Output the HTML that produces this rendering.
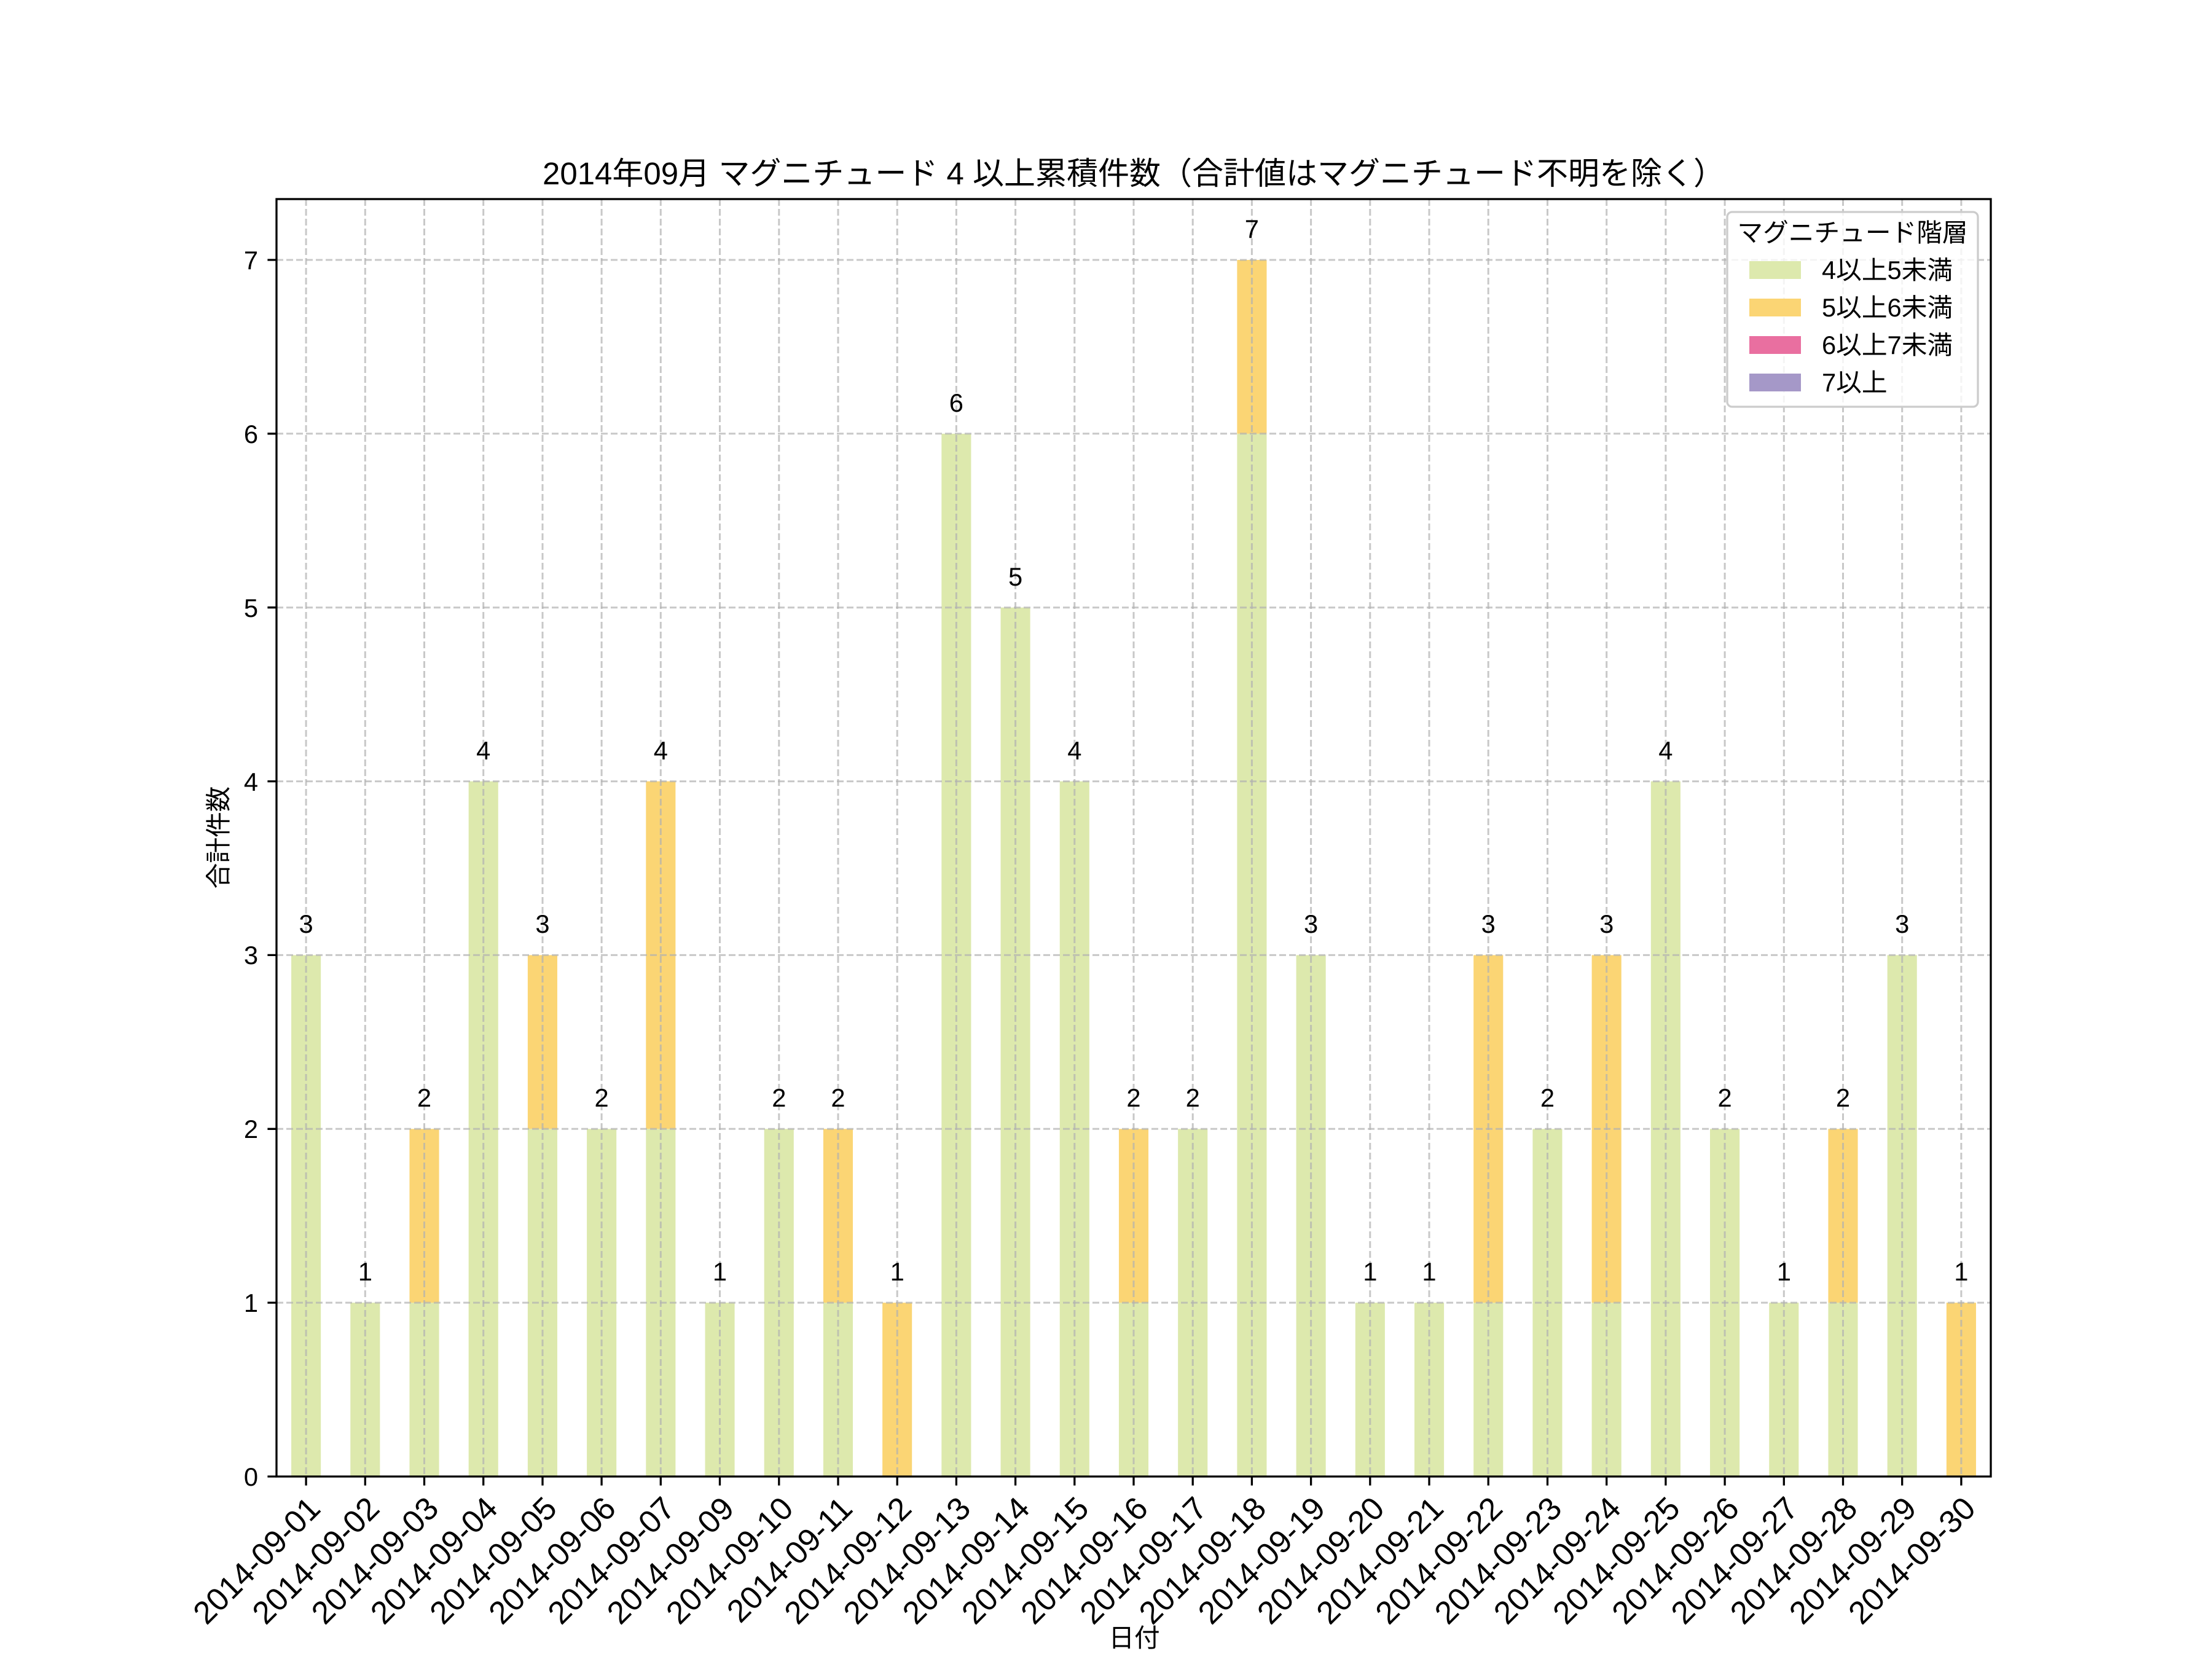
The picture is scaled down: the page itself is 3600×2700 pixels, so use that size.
<!DOCTYPE html>
<html><head><meta charset="utf-8"><style>
html,body{margin:0;padding:0;background:#fff;}
svg{display:block;}
text{font-family:"Liberation Sans","Noto Sans CJK JP",sans-serif;fill:#000;}
</style></head><body>
<svg width="3600" height="2700" viewBox="0 0 3600 2700" xmlns="http://www.w3.org/2000/svg">
<rect width="3600" height="2700" fill="#fff"/>
<g transform="translate(450,2403) scale(96.207,-282.857)">
<g fill="#dde9ad">
<rect x="0.25" y="0" width="0.5" height="3"/>
<rect x="1.25" y="0" width="0.5" height="1"/>
<rect x="2.25" y="0" width="0.5" height="1"/>
<rect x="3.25" y="0" width="0.5" height="4"/>
<rect x="4.25" y="0" width="0.5" height="2"/>
<rect x="5.25" y="0" width="0.5" height="2"/>
<rect x="6.25" y="0" width="0.5" height="2"/>
<rect x="7.25" y="0" width="0.5" height="1"/>
<rect x="8.25" y="0" width="0.5" height="2"/>
<rect x="9.25" y="0" width="0.5" height="1"/>
<rect x="11.25" y="0" width="0.5" height="6"/>
<rect x="12.25" y="0" width="0.5" height="5"/>
<rect x="13.25" y="0" width="0.5" height="4"/>
<rect x="14.25" y="0" width="0.5" height="1"/>
<rect x="15.25" y="0" width="0.5" height="2"/>
<rect x="16.25" y="0" width="0.5" height="6"/>
<rect x="17.25" y="0" width="0.5" height="3"/>
<rect x="18.25" y="0" width="0.5" height="1"/>
<rect x="19.25" y="0" width="0.5" height="1"/>
<rect x="20.25" y="0" width="0.5" height="1"/>
<rect x="21.25" y="0" width="0.5" height="2"/>
<rect x="22.25" y="0" width="0.5" height="1"/>
<rect x="23.25" y="0" width="0.5" height="4"/>
<rect x="24.25" y="0" width="0.5" height="2"/>
<rect x="25.25" y="0" width="0.5" height="1"/>
<rect x="26.25" y="0" width="0.5" height="1"/>
<rect x="27.25" y="0" width="0.5" height="3"/>
</g>
<g fill="#fbd574">
<rect x="2.25" y="1" width="0.5" height="1"/>
<rect x="4.25" y="2" width="0.5" height="1"/>
<rect x="6.25" y="2" width="0.5" height="2"/>
<rect x="9.25" y="1" width="0.5" height="1"/>
<rect x="10.25" y="0" width="0.5" height="1"/>
<rect x="14.25" y="1" width="0.5" height="1"/>
<rect x="16.25" y="6" width="0.5" height="1"/>
<rect x="20.25" y="1" width="0.5" height="2"/>
<rect x="22.25" y="1" width="0.5" height="2"/>
<rect x="26.25" y="1" width="0.5" height="1"/>
<rect x="28.25" y="0" width="0.5" height="1"/>
</g>
</g>
<g stroke="#b0b0b0" stroke-opacity="0.7" stroke-width="3" stroke-dasharray="11,5" fill="none">
<path d="M450 2120.1H3240M450 1837.3H3240M450 1554.4H3240M450 1271.6H3240M450 988.7H3240M450 705.8H3240M450 423H3240"/>
<path d="M498.1 324V2403M594.3 324V2403M690.5 324V2403M786.7 324V2403M883 324V2403M979.1 324V2403M1075.3 324V2403M1171.5 324V2403M1267.8 324V2403M1364 324V2403M1460.2 324V2403M1556.4 324V2403M1652.6 324V2403M1748.8 324V2403M1845 324V2403M1941.2 324V2403M2037.4 324V2403M2133.6 324V2403M2229.8 324V2403M2326 324V2403M2422.2 324V2403M2518.5 324V2403M2614.7 324V2403M2710.9 324V2403M2807.1 324V2403M2903.3 324V2403M2999.5 324V2403M3095.7 324V2403M3191.9 324V2403"/>
</g>
<rect x="450" y="324" width="2790" height="2079" fill="none" stroke="#000" stroke-width="3.3"/>
<g stroke="#000" stroke-width="3.3">
<path d="M450 2403h-14.6M450 2120.1h-14.6M450 1837.3h-14.6M450 1554.4h-14.6M450 1271.6h-14.6M450 988.7h-14.6M450 705.8h-14.6M450 423h-14.6"/>
<path d="M498.1 2403v14.6M594.3 2403v14.6M690.5 2403v14.6M786.7 2403v14.6M883 2403v14.6M979.1 2403v14.6M1075.3 2403v14.6M1171.5 2403v14.6M1267.8 2403v14.6M1364 2403v14.6M1460.2 2403v14.6M1556.4 2403v14.6M1652.6 2403v14.6M1748.8 2403v14.6M1845 2403v14.6M1941.2 2403v14.6M2037.4 2403v14.6M2133.6 2403v14.6M2229.8 2403v14.6M2326 2403v14.6M2422.2 2403v14.6M2518.5 2403v14.6M2614.7 2403v14.6M2710.9 2403v14.6M2807.1 2403v14.6M2903.3 2403v14.6M2999.5 2403v14.6M3095.7 2403v14.6M3191.9 2403v14.6"/>
</g>
<g font-size="41.7" text-anchor="end">
<text x="420" y="2418">0</text>
<text x="420" y="2135">1</text>
<text x="420" y="1852">2</text>
<text x="420" y="1569">3</text>
<text x="420" y="1287">4</text>
<text x="420" y="1004">5</text>
<text x="420" y="721">6</text>
<text x="420" y="438">7</text>
</g>
<g font-size="52" text-anchor="end">
<text transform="translate(498.1,2432) rotate(-45)" y="37">2014-09-01</text>
<text transform="translate(594.3,2432) rotate(-45)" y="37">2014-09-02</text>
<text transform="translate(690.5,2432) rotate(-45)" y="37">2014-09-03</text>
<text transform="translate(786.7,2432) rotate(-45)" y="37">2014-09-04</text>
<text transform="translate(883,2432) rotate(-45)" y="37">2014-09-05</text>
<text transform="translate(979.1,2432) rotate(-45)" y="37">2014-09-06</text>
<text transform="translate(1075.3,2432) rotate(-45)" y="37">2014-09-07</text>
<text transform="translate(1171.5,2432) rotate(-45)" y="37">2014-09-09</text>
<text transform="translate(1267.8,2432) rotate(-45)" y="37">2014-09-10</text>
<text transform="translate(1364,2432) rotate(-45)" y="37">2014-09-11</text>
<text transform="translate(1460.2,2432) rotate(-45)" y="37">2014-09-12</text>
<text transform="translate(1556.4,2432) rotate(-45)" y="37">2014-09-13</text>
<text transform="translate(1652.6,2432) rotate(-45)" y="37">2014-09-14</text>
<text transform="translate(1748.8,2432) rotate(-45)" y="37">2014-09-15</text>
<text transform="translate(1845,2432) rotate(-45)" y="37">2014-09-16</text>
<text transform="translate(1941.2,2432) rotate(-45)" y="37">2014-09-17</text>
<text transform="translate(2037.4,2432) rotate(-45)" y="37">2014-09-18</text>
<text transform="translate(2133.6,2432) rotate(-45)" y="37">2014-09-19</text>
<text transform="translate(2229.8,2432) rotate(-45)" y="37">2014-09-20</text>
<text transform="translate(2326,2432) rotate(-45)" y="37">2014-09-21</text>
<text transform="translate(2422.2,2432) rotate(-45)" y="37">2014-09-22</text>
<text transform="translate(2518.5,2432) rotate(-45)" y="37">2014-09-23</text>
<text transform="translate(2614.7,2432) rotate(-45)" y="37">2014-09-24</text>
<text transform="translate(2710.9,2432) rotate(-45)" y="37">2014-09-25</text>
<text transform="translate(2807.1,2432) rotate(-45)" y="37">2014-09-26</text>
<text transform="translate(2903.3,2432) rotate(-45)" y="37">2014-09-27</text>
<text transform="translate(2999.5,2432) rotate(-45)" y="37">2014-09-28</text>
<text transform="translate(3095.7,2432) rotate(-45)" y="37">2014-09-29</text>
<text transform="translate(3191.9,2432) rotate(-45)" y="37">2014-09-30</text>
</g>
<g font-size="41.7" text-anchor="middle">
<text x="498.1" y="1518">3</text>
<text x="594.3" y="2084">1</text>
<text x="690.5" y="1801">2</text>
<text x="786.7" y="1236">4</text>
<text x="883" y="1518">3</text>
<text x="979.1" y="1801">2</text>
<text x="1075.3" y="1236">4</text>
<text x="1171.5" y="2084">1</text>
<text x="1267.8" y="1801">2</text>
<text x="1364" y="1801">2</text>
<text x="1460.2" y="2084">1</text>
<text x="1556.4" y="670">6</text>
<text x="1652.6" y="953">5</text>
<text x="1748.8" y="1236">4</text>
<text x="1845" y="1801">2</text>
<text x="1941.2" y="1801">2</text>
<text x="2037.4" y="387">7</text>
<text x="2133.6" y="1518">3</text>
<text x="2229.8" y="2084">1</text>
<text x="2326" y="2084">1</text>
<text x="2422.2" y="1518">3</text>
<text x="2518.5" y="1801">2</text>
<text x="2614.7" y="1518">3</text>
<text x="2710.9" y="1236">4</text>
<text x="2807.1" y="1801">2</text>
<text x="2903.3" y="2084">1</text>
<text x="2999.5" y="1801">2</text>
<text x="3095.7" y="1518">3</text>
<text x="3191.9" y="2084">1</text>
</g>
<text x="1845" y="300" font-size="51" text-anchor="middle">2014年09月 マグニチュード 4 以上累積件数（合計値はマグニチュード不明を除く）</text>
<text x="1846" y="2680" font-size="41.7" text-anchor="middle">日付</text>
<text transform="translate(370,1363) rotate(-90)" font-size="41.7" text-anchor="middle">合計件数</text>
<rect x="2811" y="345" width="408" height="317" rx="8" fill="#fff" fill-opacity="0.8" stroke="#cccccc" stroke-width="3.3"/>
<text x="3015" y="393" font-size="41.7" text-anchor="middle">マグニチュード階層</text>
<rect x="2847" y="425" width="84" height="29" fill="#dde9ad"/>
<rect x="2847" y="486" width="84" height="29" fill="#fbd574"/>
<rect x="2847" y="547" width="84" height="29" fill="#e96fa0"/>
<rect x="2847" y="608" width="84" height="29" fill="#a598c8"/>
<g font-size="41.7">
<text x="2965" y="454">4以上5未満</text>
<text x="2965" y="515">5以上6未満</text>
<text x="2965" y="576">6以上7未満</text>
<text x="2965" y="637">7以上</text>
</g>
</svg>
</body></html>
